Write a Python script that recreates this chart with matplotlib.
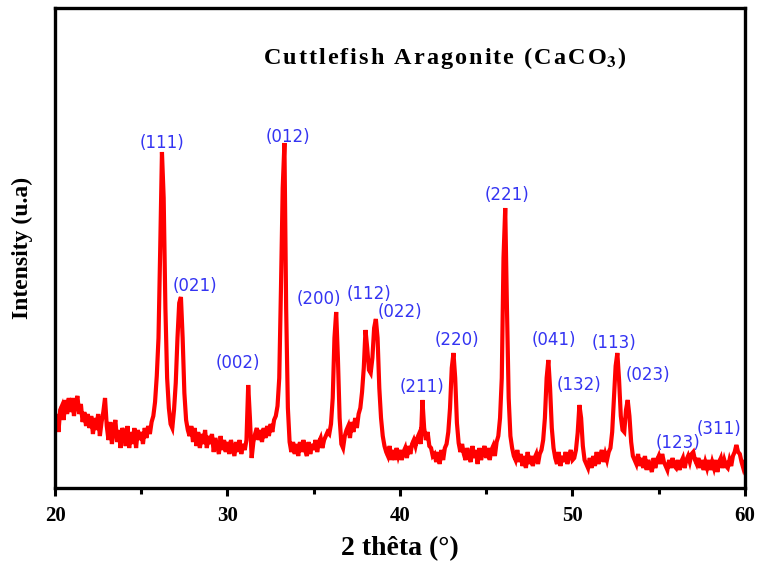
import numpy as np
import matplotlib
matplotlib.use("Agg")
import matplotlib.pyplot as plt

plt.rcParams["mathtext.fontset"] = "stix"

#Scan grid, 0.1 deg steps from 20 to 60
TWO_THETA = np.round(np.arange(20.0, 60.05, 0.1), 1)

#Counts per degree row, ten readings per row (x.0 .. x.9), last entry is 60.0
COUNTS = [
    58, 74, 56, 78, 82, 68, 88, 74, 90, 76,      #20
    90, 72, 86, 92, 74, 84, 66, 76, 62, 74,      #21
    60, 72, 54, 70, 58, 74, 52, 66, 76, 90,      #22
    62, 48, 66, 44, 60, 68, 46, 58, 40, 60,      #23
    54, 42, 62, 40, 56, 44, 60, 40, 58, 48,      #24
    56, 44, 60, 50, 62, 54, 66, 72, 86, 112,     #25
    150, 240, 336, 290, 180, 110, 80, 64, 60, 78,   #26
    105, 150, 185, 191, 150, 95, 68, 58, 52, 62,    #27
    46, 60, 42, 56, 40, 54, 44, 58, 40, 52,      #28
    44, 54, 36, 50, 42, 34, 52, 38, 48, 36,      #29
    46, 34, 48, 40, 32, 46, 36, 48, 34, 44,      #30
    38, 48, 103, 70, 30, 46, 54, 60, 48, 58,     #31
    46, 60, 50, 62, 52, 64, 56, 68, 72, 82,      #32
    110, 200, 300, 345, 180, 80, 46, 36, 46, 34,    #33
    44, 32, 46, 36, 48, 38, 32, 46, 34, 44,      #34
    38, 48, 36, 46, 50, 40, 48, 52, 56, 54,      #35
    64, 90, 150, 176, 130, 70, 44, 40, 52, 58,   #36
    62, 50, 66, 56, 70, 60, 74, 80, 96, 120,     #37
    158, 140, 118, 115, 130, 160, 169, 150, 100, 70,  #38
    52, 42, 36, 32, 42, 28, 38, 28, 40, 32,      #39
    38, 28, 36, 40, 30, 42, 34, 44, 48, 42,      #40
    50, 54, 44, 88, 60, 48, 56, 42, 40, 32,      #41
    34, 26, 36, 24, 38, 28, 40, 44, 56, 80,      #42
    120, 135, 110, 65, 45, 36, 44, 34, 28, 40,   #43
    32, 26, 42, 30, 38, 24, 40, 28, 36, 42,      #44
    30, 40, 28, 38, 42, 32, 46, 52, 70, 110,     #45
    230, 280, 180, 90, 52, 40, 32, 28, 38, 26,   #46
    34, 22, 32, 20, 36, 24, 32, 22, 30, 34,      #47
    24, 34, 38, 48, 70, 110, 128, 100, 60, 40,   #48
    30, 24, 36, 22, 32, 26, 36, 24, 32, 38,      #49
    28, 30, 38, 55, 83, 70, 42, 28, 24, 20,      #50
    30, 20, 32, 22, 36, 24, 32, 38, 26, 34,      #51
    28, 36, 40, 56, 88, 122, 135, 108, 72, 58,   #52
    56, 78, 88, 72, 46, 32, 28, 24, 34, 22,      #53
    30, 20, 32, 18, 28, 22, 16, 30, 20, 28,      #54
    32, 24, 34, 26, 22, 18, 28, 20, 30, 22,      #55
    20, 28, 18, 26, 30, 20, 28, 32, 26, 34,      #56
    36, 28, 24, 30, 20, 28, 18, 26, 20, 28,      #57
    18, 26, 20, 28, 16, 26, 30, 20, 28, 22,      #58
    20, 28, 22, 32, 36, 43, 36, 34, 26, 20,      #59
    26,                                          #60
]

#Miller indices and where their tags sit (2theta, counts)
HKL = ["(111)", "(021)", "(002)", "(012)", "(200)", "(112)", "(022)", "(211)",
       "(220)", "(221)", "(041)", "(132)", "(113)", "(023)", "(123)", "(311)"]
HKL_X = [26.2, 28.1, 30.6, 33.5, 35.3, 38.2, 40.0, 41.3,
         43.3, 46.2, 48.9, 50.4, 52.4, 54.4, 56.1, 58.5]
HKL_Y = [345, 202, 125, 351, 189, 194, 176, 101,
         148, 293, 148, 103, 145, 113, 45, 59]

SERIF = "Liberation Serif"

fig = plt.figure(figsize=(7.58, 5.70), dpi=100)
ax = fig.add_axes([55 / 758, 82 / 570, 690 / 758, 480 / 570])

ax.plot(TWO_THETA, COUNTS, color="#ff0000", lw=3.0, solid_joinstyle="miter")

for lab, lx, ly in zip(HKL, HKL_X, HKL_Y):
    ax.text(lx, ly, lab, color="#3434f2", fontsize=12, ha="center", va="center",
            family="DejaVu Sans")

#Slightly spaced out title, hair spaces between letters
title = "\u200a".join("Cuttlefish Aragonite (CaCO")
ax.text(0.565, 0.895, title + r"$_\mathbf{3}$" + "\u200a)", transform=ax.transAxes,
        ha="center", va="center", fontsize=17.5, fontweight="bold", family=SERIF)

ax.set_xlim(20, 60)
ax.set_ylim(0, 480)
ax.set_xticks([20, 30, 40, 50, 60])
ax.set_xticks([25, 35, 45, 55], minor=True)
ax.set_yticks([])
for lbl in ax.get_xticklabels():
    lbl.set_family(SERIF)
    lbl.set_fontweight("bold")
    lbl.set_fontsize(15)
ax.tick_params(axis="x", which="major", direction="out", length=6, width=2.2, pad=7)
ax.tick_params(axis="x", which="minor", direction="out", length=4, width=2.2)
for sp in ax.spines.values():
    sp.set_linewidth(2.4)

ax.set_xlabel("2 thêta (°)", family=SERIF, fontweight="bold", fontsize=20, labelpad=7)
ax.set_ylabel("Intensity (u.a)", family=SERIF, fontweight="bold", fontsize=17, labelpad=16)

fig.savefig("out.png", dpi=100)
